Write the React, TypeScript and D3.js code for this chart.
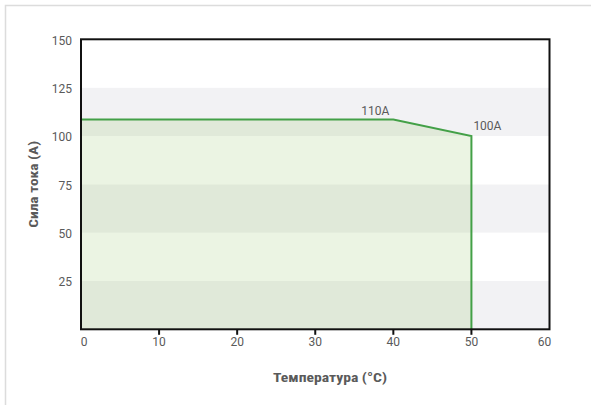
import * as d3 from 'd3';
import * as React from 'react';

// derating curve: current (A) vs ambient temperature (°C)
const temps = [0, 40, 50];
const currents = [108.5, 108.5, 100];
const xTickValues = [0, 10, 20, 30, 40, 50, 60];
const yTickValues = [25, 50, 75, 100, 125, 150];
const bandStarts = [0, 25, 50, 75, 100, 125];
const notes = [
    {x: 40, y: 108.5, text: '110A', dx: -18, dy: -9},
    {x: 50, y: 100, text: '100A', dx: 16, dy: -10},
];

const width = 591;
const height = 405;
const plot = {left: 81, right: 549.5, top: 39.3, bottom: 329.3};
const textColor = '#5a5a5a';
const green = '#43a047';
const tickFont = 'Roboto, "Noto Sans", sans-serif';
const titleFont = '"Roboto Condensed", "Liberation Sans Narrow", "DejaVu Sans Condensed", Roboto, sans-serif';

export default function App() {
    const x = d3.scaleLinear().domain([0, 60]).range([plot.left, plot.right]);
    const y = d3.scaleLinear().domain([0, 150]).range([plot.bottom, plot.top]);

    const points = temps.map((t, i) => ({t, a: currents[i]}));

    const area = d3.area<{t: number; a: number}>()
        .x((d) => x(d.t))
        .y0(y(0))
        .y1((d) => y(d.a));

    const line = d3.line<{t: number; a: number}>()
        .x((d) => x(d.t))
        .y((d) => y(d.a));

    const last = points[points.length - 1];
    const outline = [...points, {t: last.t, a: 0}];

    return (
        <svg width={width} height={height} style={{position: 'absolute', left: 0, top: 0}}>
            <rect x={5.5} y={5.5} width={width + 20} height={height + 20} fill='#fff' stroke='#dcdcdc' strokeWidth={1.5} />

            {bandStarts.map((b, i) => (
                <rect key={b} x={plot.left} width={plot.right - plot.left}
                    y={y(b + 25)} height={y(b) - y(b + 25)}
                    fill={i % 2 === 0 ? '#f2f2f4' : '#ffffff'} />
            ))}

            <path d={area(points) || ''} fill='#7cb342' fillOpacity={0.15} />
            <path d={line(outline) || ''} fill='none' stroke={green} strokeWidth={2} />

            <rect x={plot.left} y={plot.top} width={plot.right - plot.left} height={plot.bottom - plot.top}
                fill='none' stroke='#111' strokeWidth={2} />

            {xTickValues.map((t, i) => {
                const edge = i === 0 ? 3 : i === xTickValues.length - 1 ? -5 : 0;
                return (
                    <g key={t} transform={`translate(${x(t)},${plot.bottom})`}>
                        {i > 0 && i < xTickValues.length - 1 && (
                            <line y1={0} y2={5.5} stroke='#111' strokeWidth={2} />
                        )}
                        <text x={edge} y={12.5} dy='0.35em' textAnchor='middle'
                            fontFamily={tickFont} fontSize={12} fill={textColor}>{t}</text>
                    </g>
                );
            })}

            {yTickValues.map((t) => (
                <text key={t} x={72} y={y(t) + 1} dy='0.35em' textAnchor='end'
                    fontFamily={tickFont} fontSize={12} fill={textColor}>{t}</text>
            ))}

            {notes.map((n) => (
                <text key={n.text} x={x(n.x) + n.dx} y={y(n.y) + n.dy} dy='0.35em' textAnchor='middle'
                    fontFamily={tickFont} fontSize={12} fill={textColor}>{n.text}</text>
            ))}

            <text x={330} y={377} dy='0.35em' textAnchor='middle' fontFamily={titleFont}
                fontWeight='bold' fontSize={13} fill={textColor}
                textLength={114} lengthAdjust='spacingAndGlyphs'>Температура (°C)</text>

            <text transform={`translate(33,${(plot.top + plot.bottom) / 2}) rotate(-90)`} dy='0.35em'
                textAnchor='middle' fontFamily={titleFont} fontWeight='bold' fontSize={13} fill={textColor}
                textLength={87} lengthAdjust='spacingAndGlyphs'>Сила тока (А)</text>
        </svg>
    );
}
